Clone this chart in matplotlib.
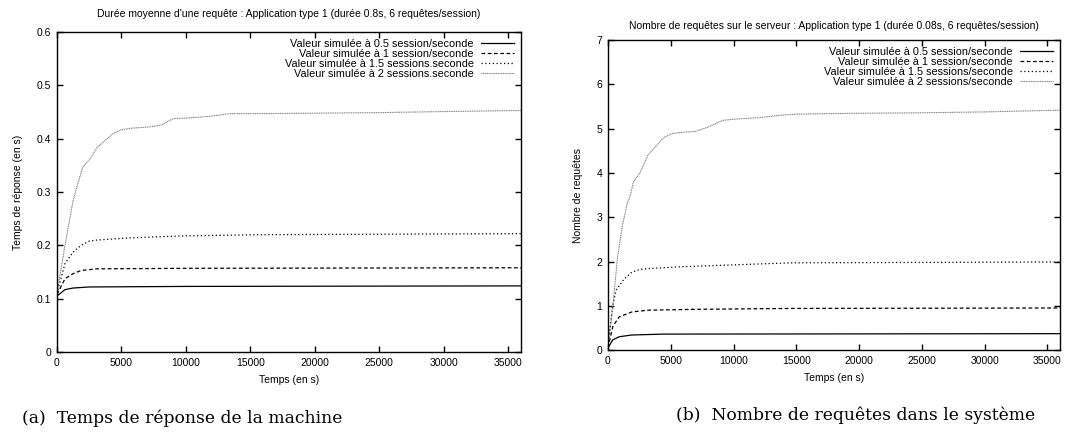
import numpy as np
import matplotlib
matplotlib.use("Agg")
import matplotlib.pyplot as plt

plt.rcParams['font.family'] = ['Liberation Sans', 'DejaVu Sans']

# --- data ---
# (a) mean response time of a request (s)
t_a_05 = [0, 625, 1250, 2500, 10000, 36000]
v_a_05 = [0.105, 0.117, 0.120, 0.122, 0.123, 0.124]
t_a_1 = [0, 625, 1250, 1875, 3125, 10000, 36000]
v_a_1 = [0.108, 0.1375, 0.147, 0.153, 0.156, 0.157, 0.158]
t_a_15 = [0, 625, 1250, 1875, 2500, 3125, 5625, 9375, 15625, 36000]
v_a_15 = [0.110, 0.166, 0.1875, 0.200, 0.208, 0.210, 0.214, 0.2175, 0.220, 0.222]
t_a_2 = [0, 600, 1250, 1625, 2000, 2500, 3125, 3750, 4375, 5000, 5875, 7125,
         8125, 9000, 10125, 11875, 13375, 15000, 20000, 25000, 30000, 36000]
v_a_2 = [0.109, 0.197, 0.284, 0.316, 0.347, 0.360, 0.384, 0.397, 0.410, 0.417,
         0.420, 0.422, 0.426, 0.4375, 0.439, 0.442, 0.447, 0.447, 0.448, 0.449,
         0.451, 0.453]

# (b) number of requests on the server
t_b_05 = [0, 380, 890, 1900, 4440, 36000]
v_b_05 = [0.05, 0.23, 0.30, 0.34, 0.36, 0.37]
t_b_1 = [0, 380, 890, 1900, 3170, 6980, 14600, 36000]
v_b_1 = [0.05, 0.53, 0.75, 0.86, 0.90, 0.92, 0.94, 0.95]
t_b_15 = [0, 380, 630, 1270, 1900, 2540, 3170, 5710, 9520, 14600, 36000]
v_b_15 = [0.10, 1.00, 1.35, 1.60, 1.76, 1.82, 1.84, 1.88, 1.92, 1.97, 1.99]
t_b_2 = [0, 380, 760, 1140, 1520, 1780, 2030, 2540, 3170, 3810, 4440, 5080,
         5960, 6980, 8000, 9140, 10280, 12050, 13570, 15000, 20000, 25000,
         30000, 36000]
v_b_2 = [0.10, 0.98, 2.10, 2.80, 3.30, 3.50, 3.80, 4.00, 4.40, 4.60, 4.80, 4.89,
         4.92, 4.94, 5.04, 5.19, 5.22, 5.25, 5.30, 5.33, 5.35, 5.36, 5.38, 5.42]

labels_a = ['Valeur simulée à 0.5 session/seconde',
            'Valeur simulée à 1 session/seconde',
            'Valeur simulée à 1.5 sessions.seconde',
            'Valeur simulée à 2 sessions.seconde']
labels_b = ['Valeur simulée à 0.5 session/seconde',
            'Valeur simulée à 1 session/seconde',
            'Valeur simulée à 1.5 sessions/seconde',
            'Valeur simulée à 2 sessions/seconde']

styles = [dict(color='black', linestyle='-', linewidth=0.9),
          dict(color='black', linestyle=(0, (3, 2)), linewidth=0.9),
          dict(color='black', linestyle=(0, (1, 2)), linewidth=0.9),
          dict(color='#808080', linestyle=(0, (1, 0.6)), linewidth=0.8)]

fig = plt.figure(figsize=(10.83, 4.37), dpi=100)

def draw(ax, series, labels, ylim, yticks, ylabel, title, tpad):
    for (t, v), lab, st in zip(series, labels, styles):
        ax.plot(t, v, label=lab, **st)
    ax.set_xlim(0, 36000)
    ax.set_ylim(*ylim)
    ax.set_xticks([0, 5000, 10000, 15000, 20000, 25000, 30000, 35000])
    ax.set_yticks(yticks)
    ax.tick_params(direction='in', top=True, right=True, length=4, width=1,
                   labelsize=7.5, pad=4)
    for s in ax.spines.values():
        s.set_linewidth(1.0)
    ax.set_xlabel('Temps (en s)', fontsize=7.5, labelpad=5)
    ax.set_ylabel(ylabel, fontsize=7.5, labelpad=10)
    ax.set_title(title, fontsize=7.5, pad=tpad)
    ax.legend(loc='upper right', frameon=False, markerfirst=False,
              fontsize=7.8, labelspacing=0.0, handlelength=3.0,
              handletextpad=0.7, borderaxespad=0.25)

ax1 = fig.add_axes([0.0526, 0.1945, 0.4284, 0.732])
draw(ax1, [(t_a_05, v_a_05), (t_a_1, v_a_1), (t_a_15, v_a_15), (t_a_2, v_a_2)],
     labels_a, (0, 0.6), [0, 0.1, 0.2, 0.3, 0.4, 0.5, 0.6],
     'Temps de réponse (en s)',
     "Durée moyenne d'une requête : Application type 1 (durée 0.8s, 6 requêtes/session)",
     11)
ax1.set_yticklabels(['0', '0.1', '0.2', '0.3', '0.4', '0.5', '0.6'])

ax2 = fig.add_axes([0.5614, 0.199, 0.4174, 0.709])
draw(ax2, [(t_b_05, v_b_05), (t_b_1, v_b_1), (t_b_15, v_b_15), (t_b_2, v_b_2)],
     labels_b, (0, 7), [0, 1, 2, 3, 4, 5, 6, 7],
     'Nombre de requêtes',
     'Nombre de requêtes sur le serveur : Application type 1 (durée 0.08s, 6 requêtes/session)',
     8)

cap_font = ['DejaVu Serif']
fig.text(0.168, 0.044, '(a)  Temps de réponse de la machine', ha='center',
         va='center', fontsize=12.3, family=cap_font)
fig.text(0.790, 0.05, '(b)  Nombre de requêtes dans le système', ha='center',
         va='center', fontsize=12.3, family=cap_font)

fig.savefig('out.png', dpi=100)
